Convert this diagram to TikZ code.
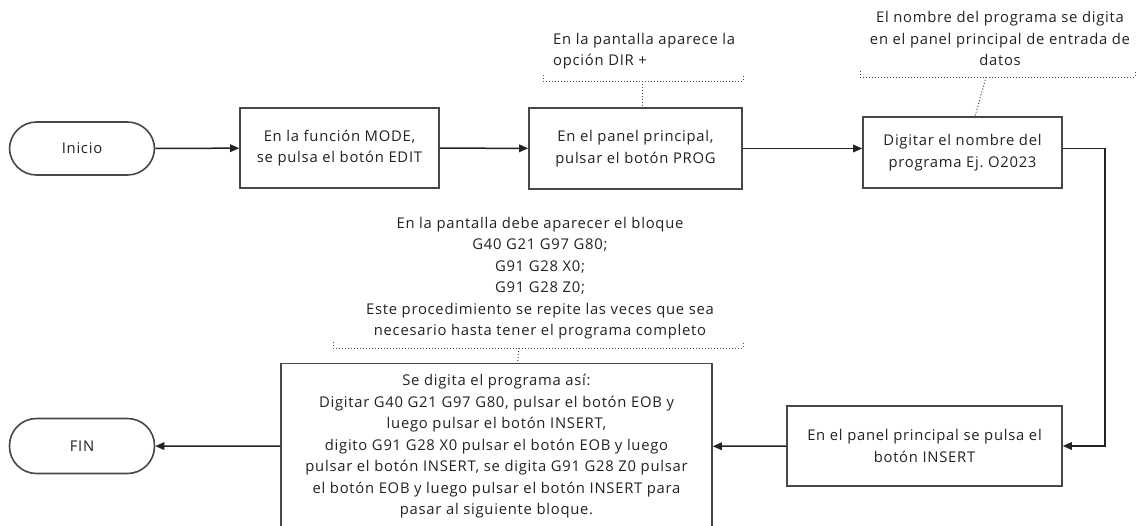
\documentclass[tikz,border=0pt]{standalone}
\usepackage{fontspec}
\setmainfont{Open Sans}[LetterSpace=5]
\usetikzlibrary{arrows.meta}
\definecolor{ink}{HTML}{222222}
\definecolor{edge}{HTML}{474747}
\tikzset{
  every node/.style={font=\fontsize{14.8}{21.5}\selectfont, text=ink},
  stepbox/.style={draw=edge, line width=1.6pt, fill=white, align=center, inner sep=0pt},
  terminal/.style={stepbox, rounded corners=27pt},
  arr/.style={draw=ink, line width=1.5pt, -{Triangle[length=9pt,width=7.5pt]}},
  notebrace/.style={draw=edge, line width=1pt, dotted},
  notetext/.style={align=center, inner sep=0pt}
}
\begin{document}
\frenchspacing
\begin{tikzpicture}[x=1pt, y=-1pt]
\useasboundingbox[fill=white] (0,0) rectangle (1138,525);

% flow steps
\node[terminal, minimum width=145pt, minimum height=53pt] (inicio) at (82,148.5) {Inicio};
\node[stepbox, minimum width=199pt, minimum height=80pt] (b1) at (339.5,148) {En la función MODE,\\se pulsa el botón EDIT};
\node[stepbox, minimum width=213pt, minimum height=81pt] (b2) at (635.5,148.5) {En el panel principal,\\pulsar el botón PROG};
\node[stepbox, minimum width=199pt, minimum height=71pt] (b3) at (962.5,152.5) {Digitar el nombre del\\programa Ej. O2023};
\node[stepbox, minimum width=275pt, minimum height=80pt] (b4) at (924.5,446) {En el panel principal se pulsa el\\botón INSERT};
\node[stepbox, minimum width=431pt, minimum height=166pt] (b5) at (496.5,446.5) {Se digita el programa así:\\Digitar G40 G21 G97 G80, pulsar el botón EOB y\\luego pulsar el botón INSERT,\\digito G91 G28 X0 pulsar el botón EOB y luego\\pulsar el botón INSERT, se digita G91 G28 Z0 pulsar\\el botón EOB y luego pulsar el botón INSERT para\\pasar al siguiente bloque.};
\node[terminal, minimum width=145pt, minimum height=55pt] (fin) at (82,446) {FIN};

% connectors
\draw[arr] (inicio) -- (b1);
\draw[arr] (b1) -- (b2);
\draw[arr] (b2.east) -- (b3.west |- b2.east);
\draw[arr] (b3.east |- b2.east) -- ++(42,0) |- (b4.east);
\draw[arr] (b4) -- (b5);
\draw[arr] (b5) -- (fin);

% annotations
\node[notetext, anchor=west, align=left] (n2) at (553,51) {En la pantalla aparece la\\opción DIR +};
\coordinate (n2s) at (642,81);
\draw[notebrace] (543,75) -- (543,81) -- (743,81) -- (743,75);
\draw[notebrace] (n2s) -- (n2s |- b2.north);

\node[notetext] (n3) at (1000,38.5) {El nombre del programa se digita\\en el panel principal de entrada de\\datos};
\coordinate (n3s) at (986,77);
\draw[notebrace] (860,71) -- (860,77) -- (1135,77) -- (1135,71);
\draw[notebrace] (n3s) -- ([xshift=12.5pt]b3.north);

\node[notetext] (n5) at (540,278) {En la pantalla debe aparecer el bloque\\G40 G21 G97 G80;\\G91 G28 X0;\\G91 G28 Z0;\\Este procedimiento se repite las veces que sea\\necesario hasta tener el programa completo};
\coordinate (n5s) at (519,348);
\draw[notebrace] (333,342) -- (333,348) -- (743,348) -- (743,342);
\draw[notebrace] (n5s) -- ([xshift=21pt]b5.north);
\end{tikzpicture}
\end{document}
